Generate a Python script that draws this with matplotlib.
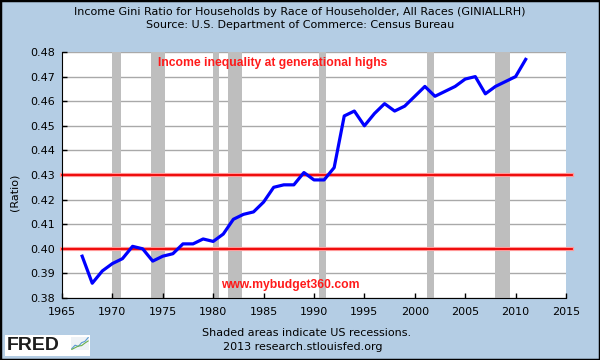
import numpy as np
import matplotlib
matplotlib.use('Agg')
import matplotlib.pyplot as plt
from matplotlib import ticker
from matplotlib.patches import Rectangle

years = list(range(1967, 2012))
gini = [0.397, 0.386, 0.391, 0.394, 0.396, 0.401, 0.400, 0.395, 0.397, 0.398,
        0.402, 0.402, 0.404, 0.403, 0.406, 0.412, 0.414, 0.415, 0.419, 0.425,
        0.426, 0.426, 0.431, 0.428, 0.428, 0.433, 0.454, 0.456, 0.450, 0.455,
        0.459, 0.456, 0.458, 0.462, 0.466, 0.462, 0.464, 0.466, 0.469, 0.470,
        0.463, 0.466, 0.468, 0.470, 0.477]
recessions = [(1969.92, 1970.88), (1973.83, 1975.21), (1980.0, 1980.54),
              (1981.5, 1982.88), (1990.5, 1991.21), (2001.17, 2001.88),
              (2007.92, 2009.46)]
ref_levels = [0.40, 0.43]
xticks = list(range(1965, 2016, 5))
yticks = [0.38, 0.39, 0.40, 0.41, 0.42, 0.43, 0.44, 0.45, 0.46, 0.47, 0.48]

bg = '#b4cde4'
W, H = 600, 360
fig = plt.figure(figsize=(6, 3.6), dpi=100, facecolor=bg)
ax = fig.add_axes([62/W, 1 - 298/H, (566-62)/W, (298-52)/H])
ax.set_facecolor('white')

for start, end in recessions:
    ax.axvspan(start, end, color='#bebebe', lw=0, zorder=1)

for y in yticks:
    ax.axhline(y, color='#a9a9a9', lw=1, zorder=0.5)

for lev in ref_levels:
    ax.axhline(lev, xmin=0, xmax=1.012, color='#ff9999', lw=3, zorder=2, clip_on=False)
    ax.axhline(lev, xmin=0, xmax=1.012, color='#ee0000', lw=1.3, zorder=2.1, clip_on=False)

ax.plot(years, gini, color='#0000ff', lw=2.3, zorder=3, solid_joinstyle='round')

ax.set_xlim(1965, 2015)
ax.set_ylim(0.38, 0.48)
ax.set_xticks(xticks)
ax.set_yticks(yticks)
ax.yaxis.set_major_formatter(ticker.FormatStrFormatter('%.2f'))
ax.tick_params(direction='in', length=3.6, width=1, labelsize=8, color='black')
ax.tick_params(axis='x', pad=6.2)
ax.tick_params(axis='y', pad=5.2)
ax.spines['top'].set_visible(False)
ax.spines['right'].set_visible(False)

fig.text(15/W, 1 - 192/H, '(Ratio)', rotation=90, ha='center', va='center', fontsize=8)

ax.text(0.417, 0.955, 'Income inequality at generational highs', transform=ax.transAxes,
        ha='center', va='center', color='#ff1a1a', fontsize=8.7, fontweight='bold',
        family='Liberation Sans')
ax.text(0.452, 0.053, 'www.mybudget360.com', transform=ax.transAxes,
        ha='center', va='center', color='#ff1a1a', fontsize=8.7, fontweight='bold',
        family='Liberation Sans')

fig.text(0.5, 1 - 11.7/H, 'Income Gini Ratio for Households by Race of Householder, All Races (GINIALLRH)',
         ha='center', va='center', fontsize=8)
fig.text(0.5, 1 - 25/H, 'Source: U.S. Department of Commerce: Census Bureau',
         ha='center', va='center', fontsize=8)
fig.text(307/W, 1 - 333/H, 'Shaded areas indicate US recessions.', ha='center', va='center', fontsize=8)
fig.text(303/W, 1 - 347/H, '2013 research.stlouisfed.org', ha='center', va='center', fontsize=8)

# FRED logo
fig.patches.append(Rectangle((5/W, 1 - 356/H), 85/W, 21/H, transform=fig.transFigure,
                             facecolor='white', edgecolor='none', zorder=-1))
fig.text(7/W, 1 - 345/H, 'FRED', ha='left', va='center', fontsize=14,
         fontweight='heavy', family='Liberation Sans', color='#1e1e1e')
logo = fig.add_axes([71/W, 1 - 350/H, 18/W, 13/H])
logo.set_zorder(3)
logo.set_facecolor('#eef2f6')
logo.plot([0, 1, 2, 3, 4, 5], [0.2, 1.0, 0.7, 1.6, 1.9, 2.8], color='#5b9bd0', lw=0.8)
logo.plot([0, 1, 2, 3, 4, 5], [0.0, 0.4, 0.8, 0.9, 1.5, 2.0], color='#6ab04c', lw=0.8)
logo.set_xticks([])
logo.set_yticks([])
for s in logo.spines.values():
    s.set_visible(False)

fig.patches.append(Rectangle((0, 0), 1, 1, transform=fig.transFigure,
                             facecolor='none', edgecolor='black', lw=2.5, zorder=10))

fig.savefig('out.png', dpi=100, facecolor=bg)
